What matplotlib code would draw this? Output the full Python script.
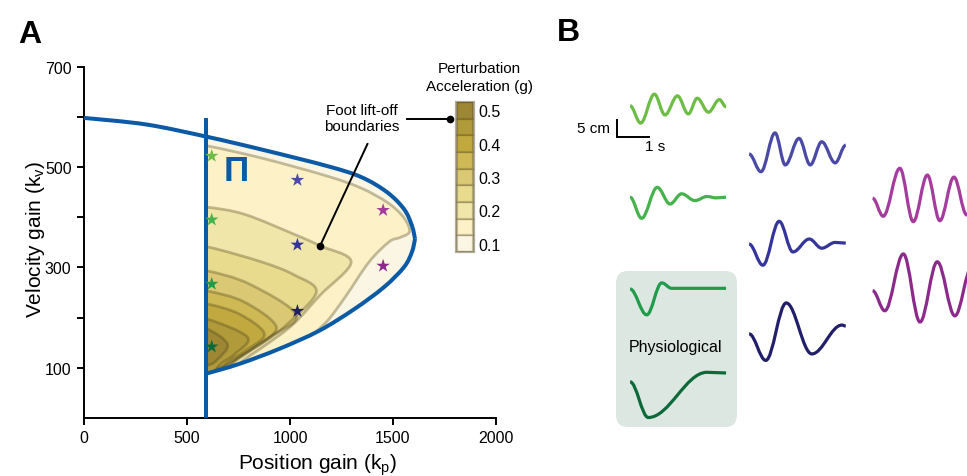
import numpy as np
import matplotlib
matplotlib.use("Agg")
import matplotlib.pyplot as plt
from matplotlib.path import Path
from matplotlib.patches import PathPatch, Rectangle, FancyBboxPatch
from matplotlib.transforms import Bbox, TransformedBbox

plt.rcParams['font.family'] = ['Liberation Sans', 'DejaVu Sans']

# ---------------- Panel A data ----------------
# foot lift-off (stability) boundary in gain space
upper_kp = [0, 300, 590, 862, 1181, 1346, 1471, 1554, 1592, 1607]
upper_kv = [598, 585, 561, 535, 502, 480, 450, 416, 383, 357]
lower_kp = [1607, 1592, 1554, 1457, 1312, 1142, 949, 755, 590]
lower_kv = [357, 331, 301, 261, 217, 174, 138, 108, 88]
ankle_kp = 590
ankle_kv_top = 598

# perturbation acceleration levels (g) and their fill colours
accel_levels = [0.10, 0.15, 0.20, 0.25, 0.30, 0.35, 0.40, 0.45, 0.50]
level_colors = ['#fbf6e4', '#fdf1c8', '#f1e6aa', '#e8db8e', '#dbc874',
                '#cfb955', '#c2a93f', '#b09a3a', '#9d8735']

# iso-acceleration contours (kp, kv), outermost first
contour_kp = [
    [513, 600, 862, 1181, 1346, 1471, 1539, 1573, 1578, 1530, 1481, 1384, 1273, 1191, 1128, 997],
    [513, 600, 779, 1021, 1147, 1297, 1147, 1016, 891, 755, 658],
    [513, 600, 862, 1021, 1128, 987, 862, 731, 634],
    [513, 600, 803, 1031, 900, 779, 682, 586],
    [513, 600, 779, 934, 828, 716, 634, 562],
    [513, 600, 755, 876, 779, 682, 586],
    [513, 600, 794, 731, 649, 586],
    [513, 600, 697, 649, 600, 513],
]
contour_kv = [
    [544, 542, 518, 482, 458, 430, 406, 385, 369, 359, 351, 311, 244, 198, 172, 118],
    [420, 420, 406, 366, 343, 311, 245, 187, 148, 108, 58],
    [341, 341, 311, 285, 251, 187, 148, 114, 58],
    [293, 293, 267, 205, 161, 128, 102, 48],
    [253, 253, 231, 181, 141, 109, 93, 38],
    [227, 227, 207, 167, 133, 105, 48],
    [197, 197, 161, 127, 101, 48],
    [177, 177, 147, 117, 105, 105],
]

# simulated controller gains (stars)
star_kp = [620, 620, 620, 620, 1036, 1036, 1036, 1452, 1452]
star_kv = [522, 395, 267, 142, 474, 345, 213, 414, 303]

trace_colors = ['#6dbd45', '#45b24c', '#1f9b4b', '#0d6a38',
                '#4a4aa6', '#34359c', '#211f6c', '#a43c9d', '#8c2a8b']

# ---------------- Panel B data ----------------
# CoM displacement extrema of each response: time (s), displacement (cm)
traces_t = [
    [0, 0.33, 0.76, 1.09, 1.48, 1.82, 2.10, 2.45, 2.79, 3.0],
    [0, 0.36, 0.85, 1.25, 1.61, 2.03, 2.40, 2.70, 3.0],
    [0, 0.52, 0.99, 1.30, 1.70, 3.0],
    [0, 0.57, 2.40, 3.0],
    [0, 0.37, 0.81, 1.13, 1.56, 1.91, 2.27, 2.69, 3.02],
    [0, 0.43, 0.94, 1.37, 1.88, 2.27, 2.69, 3.02],
    [0, 0.52, 1.16, 1.96, 2.90, 3.02],
    [0, 0.33, 0.85, 1.27, 1.71, 2.10, 2.54, 2.94, 3.30],
    [0, 0.38, 0.96, 1.48, 2.02, 2.57, 3.10],
]
traces_d = [
    [0, -5.1, 3.4, -2.7, 2.9, -2.4, 2.2, -1.9, 1.8, -0.3],
    [0, -6.2, 2.9, -2.0, 1.0, -1.0, 0.2, -0.2, 0.0],
    [0, -7.6, 1.8, 0.2, 0.2, 0.2],
    [0, -10.5, 2.8, 2.6],
    [0, -5.2, 6.2, -3.2, 4.6, -3.2, 3.6, -2.6, 2.6],
    [0, -6.2, 6.7, -2.3, 1.5, -1.2, 0.5, 0.3],
    [0, -7.8, 9.1, -5.9, 2.6, 2.3],
    [0, -5.3, 8.8, -6.9, 6.8, -6.6, 6.2, -4.9, 6.0],
    [0, -5.9, 10.8, -9.2, 8.5, -7.4, 7.0],
]
# layout: start time / baseline of each trace inside panel B (s, cm)
trace_t0 = [0.94, 0.94, 0.94, 0.94, 4.66, 4.66, 4.66, 8.52, 8.52]
trace_y0 = [108.9, 82.0, 55.0, 27.7, 94.7, 68.2, 41.8, 81.7, 54.5]

BLUE = '#0b5aa6'
LINE_C = (0.33, 0.29, 0.12, 0.35)


def smooth_verts(xs, ys):
    """Catmull-Rom curve through the points, as cubic Bezier path pieces."""
    P = np.column_stack([xs, ys]).astype(float)
    n = len(P)
    verts = [P[0]]
    codes = [Path.MOVETO]
    for i in range(n - 1):
        p0 = P[i - 1] if i > 0 else P[i]
        p1, p2 = P[i], P[i + 1]
        p3 = P[i + 2] if i + 2 < n else P[i + 1]
        verts += [p1 + (p2 - p0) / 6.0, p2 - (p3 - p1) / 6.0, p2]
        codes += [Path.CURVE4] * 3
    return verts, codes


def extrema_path(ts, ds):
    """Smooth wave through successive extrema (horizontal tangents)."""
    verts = [(ts[0], ds[0])]
    codes = [Path.MOVETO]
    for i in range(len(ts) - 1):
        dt = ts[i + 1] - ts[i]
        verts += [(ts[i] + 0.36 * dt, ds[i]), (ts[i + 1] - 0.36 * dt, ds[i + 1]),
                  (ts[i + 1], ds[i + 1])]
        codes += [Path.CURVE4] * 3
    return verts, codes


fig = plt.figure(figsize=(9.67, 4.77), dpi=100)
W, H = 967, 477

# ---------------- Panel A ----------------
ax = fig.add_axes([84 / W, 1 - 419 / H, 412 / W, 351.3 / H])
ax.set_xlim(0, 2000)
ax.set_ylim(0, 700)

uv, uc = smooth_verts(upper_kp, upper_kv)
lv, lc = smooth_verts(lower_kp, lower_kv)
clip_verts = uv + lv[1:] + [(0, lower_kv[-1]), (0, upper_kv[0])]
clip_codes = uc + lc[1:] + [Path.LINETO, Path.CLOSEPOLY]
clip_patch = PathPatch(Path(clip_verts, clip_codes), transform=ax.transData,
                       facecolor='none', edgecolor='none')
ax.add_patch(clip_patch)
clip_box = TransformedBbox(Bbox([[ankle_kp, 0], [2000, 700]]), ax.transData)

# base (lowest) level fills the whole stable region
base = PathPatch(Path(clip_verts, clip_codes), facecolor=level_colors[0],
                 edgecolor='none', zorder=1)
ax.add_patch(base)
base.set_clip_box(clip_box)

for i, (kp, kv) in enumerate(zip(contour_kp, contour_kv)):
    v, c = smooth_verts(kp, kv)
    v = v + [(300, kv[-1]), (300, kv[0]), (kp[0], kv[0])]
    c = c + [Path.LINETO, Path.LINETO, Path.CLOSEPOLY]
    fill = PathPatch(Path(v, c), facecolor=level_colors[i + 1], edgecolor='none',
                     zorder=2 + i)
    ax.add_patch(fill)
    fill.set_clip_path(clip_patch)
    fill.set_clip_box(clip_box)
for i, (kp, kv) in enumerate(zip(contour_kp, contour_kv)):
    v, c = smooth_verts(kp, kv)
    edge = PathPatch(Path(v, c), facecolor='none', edgecolor=LINE_C, lw=2.0,
                     zorder=12, capstyle='round', joinstyle='round')
    ax.add_patch(edge)
    edge.set_clip_path(clip_patch)
    edge.set_clip_box(clip_box)

# boundary lines
ax.add_patch(PathPatch(Path(uv, uc), facecolor='none', edgecolor=BLUE, lw=2.9,
                       zorder=20, clip_on=False))
ax.add_patch(PathPatch(Path(lv, lc), facecolor='none', edgecolor=BLUE, lw=2.9,
                       zorder=20, clip_on=False))
ax.plot([ankle_kp, ankle_kp], [0, ankle_kv_top], color=BLUE, lw=2.9, zorder=21,
        solid_capstyle='butt', clip_on=False)

ax.scatter(star_kp, star_kv, marker='*', s=105, c=trace_colors, zorder=25,
           linewidths=0)

ax.text(738, 494, 'Π', color=BLUE, fontsize=25, fontweight='bold',
        ha='center', va='center', zorder=25)

# annotation pointing at the contours and colour bar
ax.text(1350, 598, 'Foot lift-off\nboundaries', ha='center', va='center',
        fontsize=11, linespacing=1.25, zorder=30)
ax.plot([1376, 1146], [546, 343], color='black', lw=1.4, zorder=30)
ax.plot([1146], [343], 'o', color='black', ms=4.5, zorder=30)
ax.plot([1570, 1776], [596, 596], color='black', lw=1.4, zorder=30, clip_on=False)
ax.plot([1776], [596], 'o', color='black', ms=4.5, zorder=30, clip_on=False)

for s in ['top', 'right']:
    ax.spines[s].set_visible(False)
for s in ['left', 'bottom']:
    ax.spines[s].set_linewidth(1.4)
ax.set_xticks([0, 500, 1000, 1500, 2000])
ax.set_yticks([100, 200, 300, 400, 500, 600, 700])
ax.set_yticklabels(['100', '', '300', '', '500', '', '700'])
ax.tick_params(direction='out', length=5, width=1.4, labelsize=11.5, pad=4)
ax.set_xlabel('Position gain (k$_\\mathregular{p}$)', fontsize=15)
ax.set_ylabel('Velocity gain (k$_\\mathregular{v}$)', fontsize=15)
ax.xaxis.set_label_coords(0.566, -0.095)
ax.yaxis.set_label_coords(-0.09, 0.51)

fig.text(18 / W, 1 - 43 / H, 'A', fontsize=23, fontweight='bold', va='baseline')
fig.text(557 / W, 1 - 41 / H, 'B', fontsize=23, fontweight='bold', va='baseline')

# colour bar
cax = fig.add_axes([456 / W, 1 - 253 / H, 18 / W, 150 / H])
cax.set_xlim(0, 1)
cax.set_ylim(accel_levels[0] - 0.025, accel_levels[-1] + 0.025)
for lev, col in zip(accel_levels, level_colors):
    cax.add_patch(Rectangle((0.06, lev - 0.025), 0.88, 0.05, facecolor=col,
                            edgecolor=(0.33, 0.29, 0.12, 0.3), lw=1.6))
cax.add_patch(Rectangle((0.0, accel_levels[0] - 0.025), 1.0, 0.45, facecolor='none',
                        edgecolor=(0.33, 0.29, 0.12, 0.45), lw=1.6, clip_on=False))
for s in cax.spines.values():
    s.set_visible(False)
cax.set_xticks([])
cax.yaxis.tick_right()
cax.set_yticks([0.1, 0.2, 0.3, 0.4, 0.5])
cax.set_yticklabels(['0.1', '0.2', '0.3', '0.4', '0.5'])
cax.tick_params(axis='y', length=0, labelsize=11.5, pad=3)
fig.text(479 / W, 1 - 78 / H, 'Perturbation\nAcceleration (g)', ha='center',
         va='center', fontsize=11, linespacing=1.3)

# ---------------- Panel B ----------------
bx = fig.add_axes([600 / W, 0, 367 / W, 1])
bx.set_xlim(0, 367 / 32)
bx.set_ylim(0, H / 3.4)
bx.axis('off')

bx.add_patch(FancyBboxPatch((0.5, 14.4), 3.78, 45.9,
                            boxstyle='round,pad=0,rounding_size=0.38',
                            mutation_aspect=32 / 3.4, facecolor='#dde7e2',
                            edgecolor='none', zorder=1))
bx.text(2.375, 38.2, 'Physiological', ha='center', va='center', fontsize=11.5,
        zorder=3)

for ts, ds, t0, y0, col in zip(traces_t, traces_d, trace_t0, trace_y0, trace_colors):
    v, c = extrema_path(np.array(ts) + t0, np.array(ds) + y0)
    bx.add_patch(PathPatch(Path(v, c), facecolor='none', edgecolor=col, lw=2.3,
                           zorder=4, capstyle='butt'))

# scale bar: 5 cm, 1 s
bx.plot([0.54, 0.54, 1.54], [104.8, 99.8, 99.8], color='black', lw=1.4,
        solid_joinstyle='miter')
bx.text(0.31, 102.4, '5 cm', ha='right', va='center', fontsize=11)
bx.text(1.72, 97.1, '1 s', ha='center', va='center', fontsize=11)

fig.savefig('out.png', dpi=100)
